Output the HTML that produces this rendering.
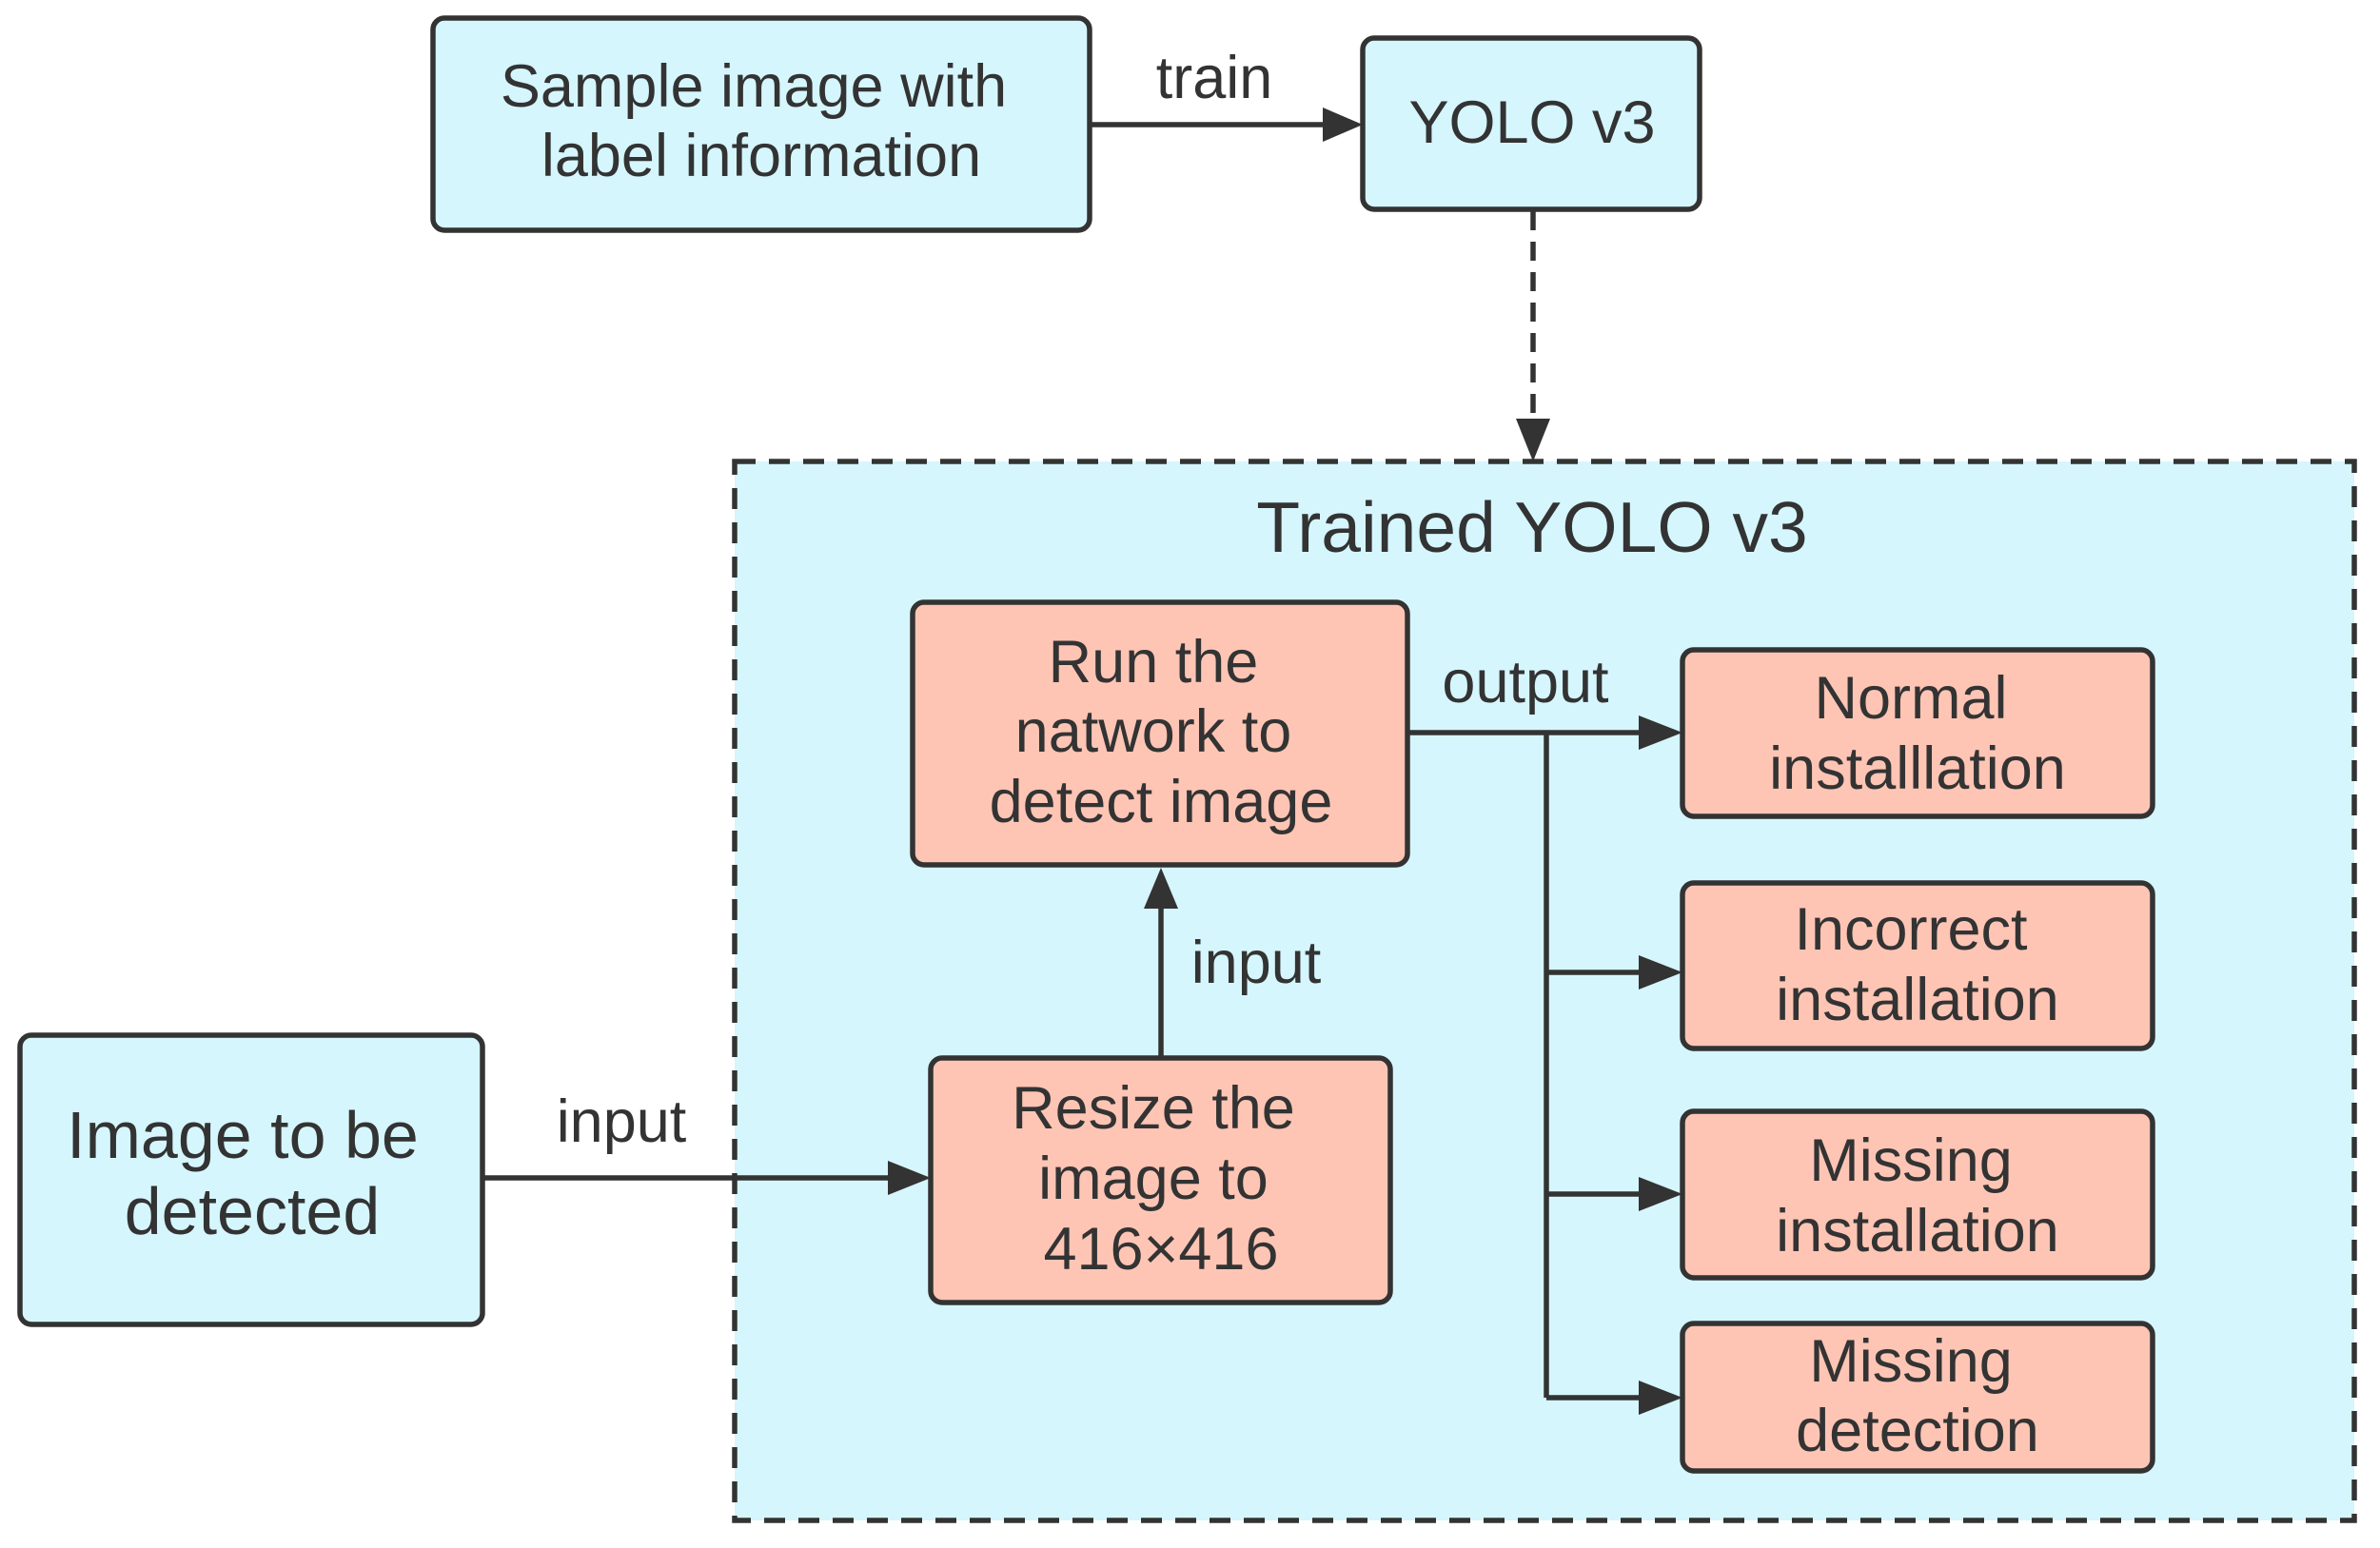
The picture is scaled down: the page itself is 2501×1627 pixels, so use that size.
<!DOCTYPE html>
<html><head><meta charset="utf-8"><style>
html,body{margin:0;padding:0;background:#fff}
svg{display:block}
text{font-family:"Liberation Sans",sans-serif;fill:#333;text-anchor:middle}
</style></head><body>
<svg width="2501" height="1627" viewBox="0 0 2501 1627" xmlns="http://www.w3.org/2000/svg">
<g stroke="#333" stroke-width="5.5">
<rect x="772" y="485" width="1702" height="1113" fill="#d5f6fd" stroke-dasharray="22,14"/>
<rect x="455" y="19" width="690" height="223" rx="12" fill="#d5f6fd"/>
<rect x="1432" y="40" width="354" height="180" rx="12" fill="#d5f6fd"/>
<rect x="21" y="1088" width="486" height="304" rx="12" fill="#d5f6fd"/>
<rect x="959" y="633" width="520" height="276" rx="12" fill="#fec5b5"/>
<rect x="978" y="1112" width="483" height="257" rx="12" fill="#fec5b5"/>
<rect x="1768" y="683" width="494" height="175" rx="12" fill="#fec5b5"/>
<rect x="1768" y="928" width="494" height="174" rx="12" fill="#fec5b5"/>
<rect x="1768" y="1168" width="494" height="175" rx="12" fill="#fec5b5"/>
<rect x="1768" y="1391" width="494" height="155" rx="12" fill="#fec5b5"/>
<line x1="1145" y1="131" x2="1392" y2="131"/>
<line x1="1611" y1="222" x2="1611" y2="440" stroke-dasharray="20,12"/>
<line x1="507" y1="1238" x2="938" y2="1238"/>
<line x1="1220" y1="1112" x2="1220" y2="952"/>
<line x1="1479" y1="770" x2="1728" y2="770"/>
<line x1="1625" y1="770" x2="1625" y2="1469"/>
<line x1="1625" y1="1022" x2="1728" y2="1022"/>
<line x1="1625" y1="1255" x2="1728" y2="1255"/>
<line x1="1625" y1="1469" x2="1728" y2="1469"/>
</g>
<g fill="#333">
<polygon points="1432,131 1390,113 1390,149"/>
<polygon points="1611,485 1593,440 1629,440"/>
<polygon points="978,1238 933,1220 933,1256"/>
<polygon points="1220,912 1202,955 1238,955"/>
<polygon points="1768,770 1722,752 1722,788"/>
<polygon points="1768,1022 1722,1004 1722,1040"/>
<polygon points="1768,1255 1722,1237 1722,1273"/>
<polygon points="1768,1469 1722,1451 1722,1487"/>
</g>
<g font-size="63">
<text x="792" y="112">Sample image with</text>
<text x="800" y="185">label information</text>
<text x="1610" y="150">YOLO v3</text>
<text x="1276" y="103">train</text>
<text x="1610" y="580" font-size="75">Trained YOLO v3</text>
<text x="1212" y="717">Run the</text>
<text x="1212" y="790">natwork to</text>
<text x="1220" y="864">detect image</text>
<text x="1212" y="1186">Resize the</text>
<text x="1212" y="1260">image to</text>
<text x="1220" y="1334">416×416</text>
<text x="1320" y="1033">input</text>
<text x="1603" y="738">output</text>
<text x="653" y="1200">input</text>
<text x="255" y="1217" font-size="70">Image to be</text>
<text x="265" y="1297" font-size="70">detected</text>
<text x="2008" y="755">Normal</text>
<text x="2015" y="829">installlation</text>
<text x="2008" y="998">Incorrect</text>
<text x="2015" y="1072">installation</text>
<text x="2008" y="1241">Missing</text>
<text x="2015" y="1315">installation</text>
<text x="2008" y="1452">Missing</text>
<text x="2015" y="1525">detection</text>
</g>
</svg>
</body></html>
